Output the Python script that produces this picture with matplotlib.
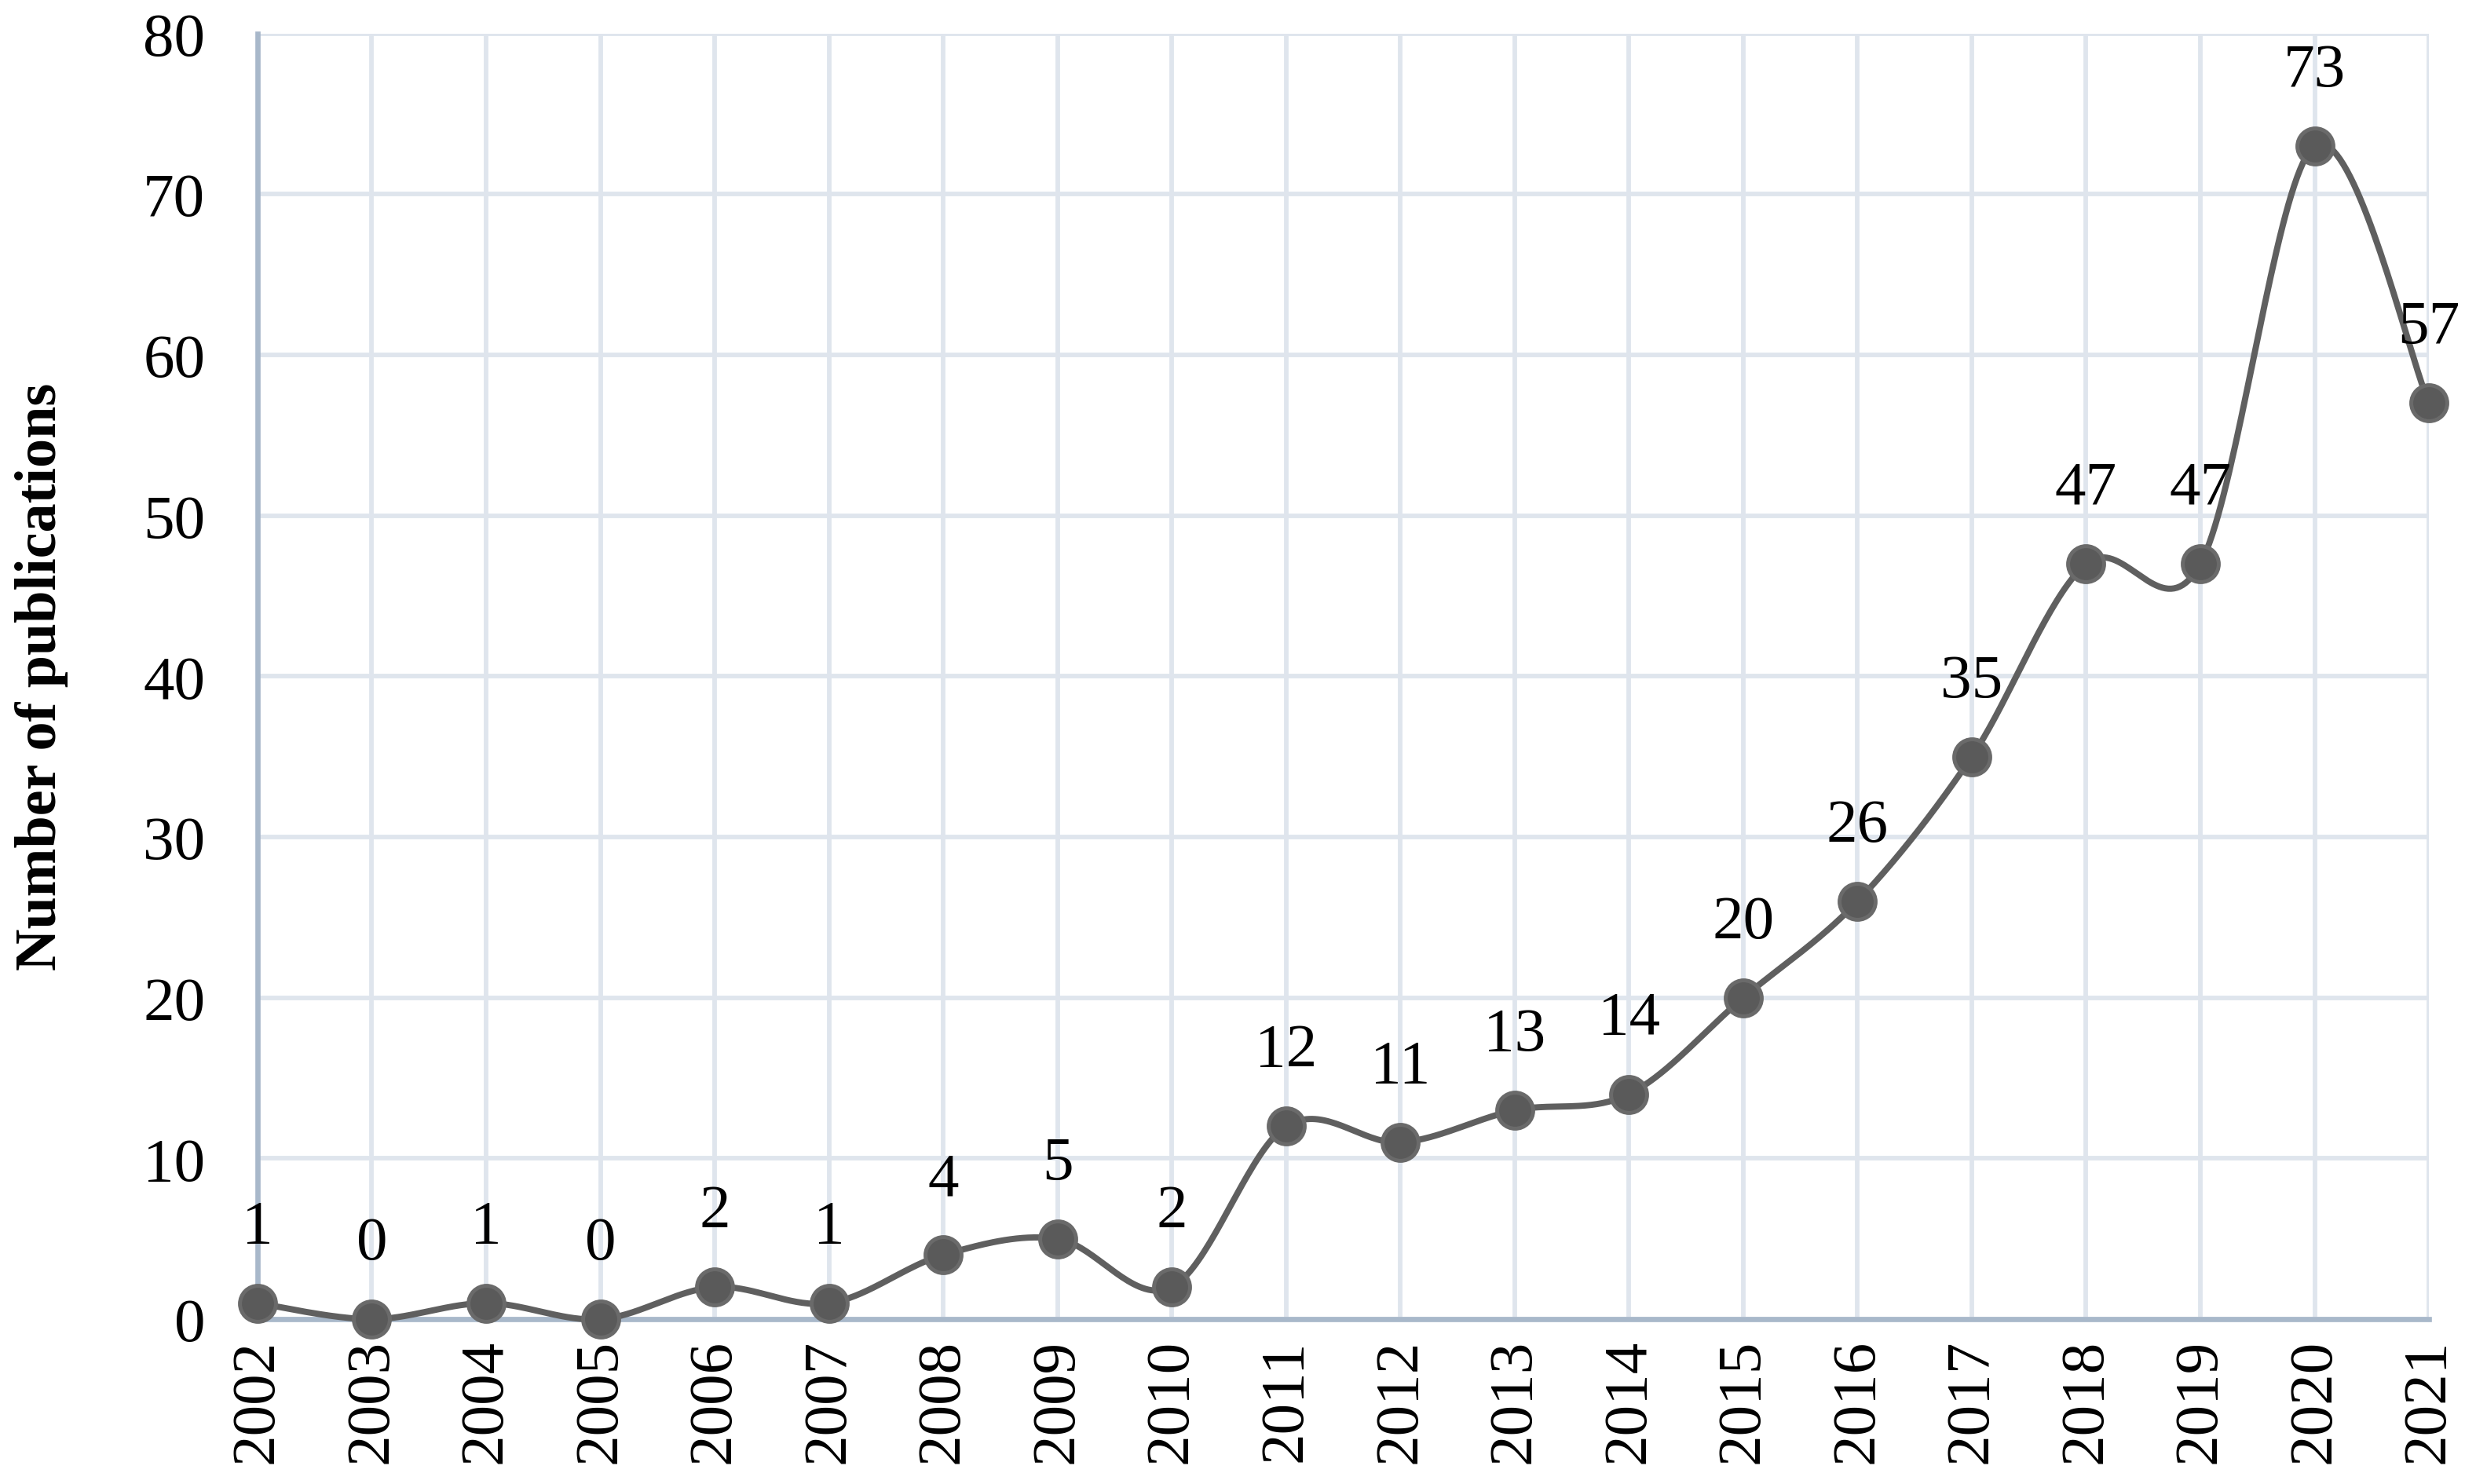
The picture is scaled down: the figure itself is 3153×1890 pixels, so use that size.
import numpy as np
import matplotlib
matplotlib.use("Agg")
import matplotlib.pyplot as plt

years = [str(y) for y in range(2002, 2022)]
counts = [1, 0, 1, 0, 2, 1, 4, 5, 2, 12, 11, 13, 14, 20, 26, 35, 47, 47, 73, 57]
y_ticks = [0, 10, 20, 30, 40, 50, 60, 70, 80]


def smooth_curve(x, y, n=40):
    # Excel-style smoothed line: cubic Bezier with Catmull-Rom control points
    x = np.asarray(x, float)
    y = np.asarray(y, float)
    px = np.concatenate([[x[0]], x, [x[-1]]])
    py = np.concatenate([[y[0]], y, [y[-1]]])
    xs, ys = [], []
    t = np.linspace(0, 1, n)
    for i in range(1, len(px) - 2):
        p0 = np.array([px[i], py[i]])
        p3 = np.array([px[i + 1], py[i + 1]])
        c1 = p0 + (np.array([px[i + 1], py[i + 1]]) - np.array([px[i - 1], py[i - 1]])) / 6
        c2 = p3 - (np.array([px[i + 2], py[i + 2]]) - np.array([px[i], py[i]])) / 6
        b = ((1 - t) ** 3)[:, None] * p0 + (3 * (1 - t) ** 2 * t)[:, None] * c1 \
            + (3 * (1 - t) * t ** 2)[:, None] * c2 + (t ** 3)[:, None] * p3
        xs.extend(b[:, 0])
        ys.extend(b[:, 1])
    return np.array(xs), np.array(ys)


plt.rcParams['font.family'] = ['Liberation Serif', 'DejaVu Serif']

fig = plt.figure(figsize=(10.51, 6.303), dpi=300)
ax = fig.add_axes([0.104, 0.111, 0.877, 0.866])

x = np.arange(len(years))
sx, sy = smooth_curve(x, counts)
ax.plot(sx, sy, color='#5f5f5f', lw=1.9, zorder=3, clip_on=False)
ax.plot(x, counts, 'o', ms=11, mfc='#5a5a5a', mec='#6a6a6a', mew=1.2,
        zorder=4, clip_on=False)

for xi, v in zip(x, counts):
    ax.annotate(str(v), (xi, v), xytext=(0, 23), textcoords='offset points',
                ha='center', va='center', fontsize=19, color='black')

ax.set_xlim(0, len(years) - 1)
ax.set_ylim(0, 80)
ax.set_xticks(x)
ax.set_xticklabels(years, rotation=90, fontsize=19)
ax.set_yticks(y_ticks)
ax.set_yticklabels([str(v) for v in y_ticks], fontsize=19)
ax.tick_params(axis='both', length=0)
ax.tick_params(axis='y', pad=16)
ax.tick_params(axis='x', pad=6)

ax.grid(True, color='#dfe5ed', lw=1.4, zorder=0)
ax.set_axisbelow(True)
for s in ['top', 'right']:
    ax.spines[s].set_visible(False)
for s in ['left', 'bottom']:
    ax.spines[s].set_color('#a8b8ca')
    ax.spines[s].set_linewidth(1.6)

ax.set_ylabel('Number of publications', fontsize=17.8, fontweight='bold')
ax.yaxis.set_label_coords(-0.087, 0.5)

fig.savefig('out.png', dpi=300, facecolor='white')
